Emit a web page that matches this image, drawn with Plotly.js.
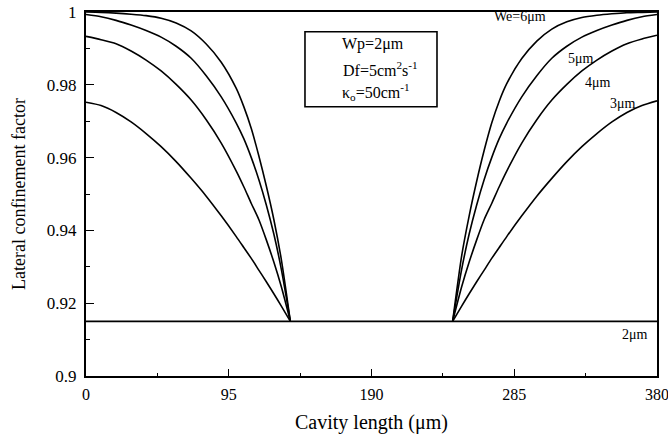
<!DOCTYPE html>
<html>
<head>
<meta charset="utf-8">
<script src="https://cdn.plot.ly/plotly-3.0.1.min.js"></script>
<style>html,body{margin:0;padding:0;background:#fff;}#chart{width:668px;height:439px;}</style>
</head>
<body>
<div id="chart"></div>
<script>
// Cavity length positions (µm), left taper and right taper
var xLeft  = [0, 10, 20, 30, 40, 50, 60, 70, 80, 90, 100, 105, 110, 115, 120, 125, 130, 136];
var xRight = [244, 250, 255, 260, 265, 270, 275, 280, 290, 300, 310, 320, 330, 340, 350, 360, 370, 380];

// Lateral confinement factor, We = 6 µm
var we6Left  = [1.0000, 0.9999, 0.9997, 0.9994, 0.9990, 0.9983, 0.9970, 0.9948, 0.9912, 0.9862, 0.9790, 0.9740, 0.9680, 0.9605, 0.9522, 0.9430, 0.9320, 0.9150];
var we6Right = [0.9150, 0.9330, 0.9440, 0.9535, 0.9620, 0.9695, 0.9755, 0.9803, 0.9872, 0.9920, 0.9953, 0.9973, 0.9985, 0.9991, 0.9995, 0.9998, 0.9999, 1.0000];
// We = 5 µm
var we5Left  = [0.9993, 0.9987, 0.9977, 0.9964, 0.9949, 0.9931, 0.9906, 0.9873, 0.9825, 0.9767, 0.9695, 0.9652, 0.9600, 0.9540, 0.9470, 0.9390, 0.9293, 0.9150];
var we5Right = [0.9150, 0.9293, 0.9390, 0.9470, 0.9540, 0.9600, 0.9652, 0.9695, 0.9767, 0.9825, 0.9873, 0.9906, 0.9931, 0.9949, 0.9964, 0.9977, 0.9987, 0.9993];
// We = 4 µm
var we4Left  = [0.9933, 0.9924, 0.9913, 0.9893, 0.9868, 0.9838, 0.9801, 0.9758, 0.9704, 0.9640, 0.9563, 0.9520, 0.9474, 0.9430, 0.9374, 0.9313, 0.9245, 0.9150];
var we4Right = [0.9150, 0.9245, 0.9313, 0.9374, 0.9430, 0.9474, 0.9520, 0.9563, 0.9640, 0.9704, 0.9758, 0.9801, 0.9838, 0.9868, 0.9893, 0.9913, 0.9926, 0.9936];
// We = 3 µm
var we3Left  = [0.9752, 0.9743, 0.9724, 0.9698, 0.9666, 0.9630, 0.9589, 0.9543, 0.9494, 0.9440, 0.9383, 0.9353, 0.9323, 0.9291, 0.9259, 0.9226, 0.9192, 0.9150];
var we3Right = [0.9150, 0.9192, 0.9226, 0.9259, 0.9291, 0.9323, 0.9353, 0.9383, 0.9440, 0.9494, 0.9543, 0.9589, 0.9630, 0.9666, 0.9698, 0.9724, 0.9743, 0.9756];
// We = 2 µm (flat)
var we2X = [0, 380];
var we2Y = [0.915, 0.915];

// Tick labels
var xTicks = [0, 95, 190, 285, 380];
var xTickText = ["0", "95", "190", "285", "380"];
var yTicks = [0.9, 0.92, 0.94, 0.96, 0.98, 1];
var yTickText = ["0.9", "0.92", "0.94", "0.96", "0.98", "1"];

var lineStyle = {color: '#000', width: 1.6, shape: 'spline', smoothing: 0.7};
function seg(x, y) {
  return {x: x, y: y, type: 'scatter', mode: 'lines', line: lineStyle, hoverinfo: 'skip', showlegend: false, cliponaxis: true};
}
var traces = [
  seg(xLeft, we6Left), seg(xRight, we6Right),
  seg(xLeft, we5Left), seg(xRight, we5Right),
  seg(xLeft, we4Left), seg(xRight, we4Right),
  seg(xLeft, we3Left), seg(xRight, we3Right),
  seg(we2X, we2Y)
];

var serif = 'Liberation Serif, Times New Roman, serif';
var labFont = {family: serif, size: 14, color: '#000'};
var boxFont = {family: serif, size: 16, color: '#000'};

var layout = {
  width: 668, height: 439,
  margin: {l: 86, r: 11, t: 12, b: 63},
  paper_bgcolor: '#fff', plot_bgcolor: '#fff',
  showlegend: false,
  font: {family: serif, size: 14, color: '#000'},
  xaxis: {
    range: [0, 380], tickvals: xTicks, ticktext: xTickText,
    ticks: 'inside', ticklen: 7, tickwidth: 1.3, tickcolor: '#000',
    minor: {dtick: 47.5, tick0: 0, ticks: 'inside', ticklen: 3, tickwidth: 1, tickcolor: '#000'},
    showline: true, linecolor: '#000', linewidth: 2, mirror: true,
    showgrid: false, zeroline: false,
    tickfont: {family: serif, size: 16, color: '#000'},
    ticklabelstandoff: 3,
    ticklabeloverflow: 'allow',
    title: {text: 'Cavity length (\u03bcm)', font: {family: serif, size: 20, color: '#000'}, standoff: 13}
  },
  yaxis: {
    range: [0.9, 1], tickvals: yTicks, ticktext: yTickText,
    ticks: 'inside', ticklen: 8, tickwidth: 1.3, tickcolor: '#000',
    minor: {dtick: 0.01, tick0: 0.9, ticks: 'inside', ticklen: 4, tickwidth: 1, tickcolor: '#000'},
    showline: true, linecolor: '#000', linewidth: 2, mirror: true,
    showgrid: false, zeroline: false,
    tickfont: {family: serif, size: 17, color: '#000'},
    ticklabelstandoff: 4,
    ticklabeloverflow: 'allow',
    title: {text: 'Lateral confinement factor', font: {family: serif, size: 18, color: '#000'}, standoff: 17}
  },
  shapes: [
    {type: 'rect', xref: 'paper', yref: 'paper', x0: 0.3835, x1: 0.6147, y0: 0.7398, y1: 0.9459,
     line: {color: '#000', width: 1.6}, fillcolor: 'rgba(0,0,0,0)'}
  ],
  annotations: [
    {xref: 'paper', yref: 'paper', x: 0.444, y: 0.912, xanchor: 'left', yanchor: 'middle', showarrow: false,
     text: 'Wp=2\u03bcm', font: boxFont},
    {xref: 'paper', yref: 'paper', x: 0.446, y: 0.843, xanchor: 'left', yanchor: 'middle', showarrow: false,
     text: 'Df=5cm<sup>2</sup>s<sup>-1</sup>', font: boxFont},
    {xref: 'paper', yref: 'paper', x: 0.444, y: 0.781, xanchor: 'left', yanchor: 'middle', showarrow: false,
     text: '\u03ba<sub>o</sub>=50cm<sup>-1</sup>', font: boxFont},
    {x: 288.5, y: 0.9987, xref: 'x', yref: 'y', showarrow: false, text: 'We=6\u03bcm', font: labFont},
    {x: 329.7, y: 0.9872, xref: 'x', yref: 'y', showarrow: false, text: '5\u03bcm', font: labFont},
    {x: 341, y: 0.9806, xref: 'x', yref: 'y', showarrow: false, text: '4\u03bcm', font: labFont},
    {x: 357.5, y: 0.9750, xref: 'x', yref: 'y', showarrow: false, text: '3\u03bcm', font: labFont},
    {x: 365.5, y: 0.9113, xref: 'x', yref: 'y', showarrow: false, text: '2\u03bcm', font: labFont}
  ]
};

Plotly.newPlot('chart', traces, layout, {staticPlot: true, displayModeBar: false});
</script>
</body>
</html>
